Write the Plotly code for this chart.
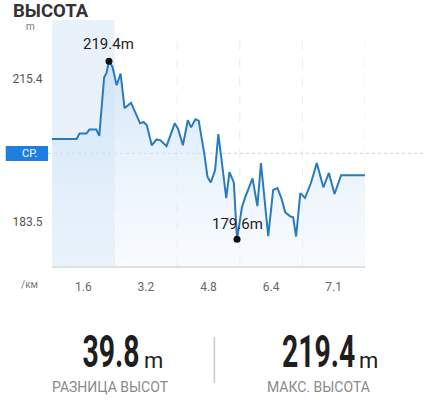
import plotly.graph_objects as go

# ---- data ----
seg_pos = [0, 0.393, 0.440, 0.550, 0.597, 0.708, 0.755, 0.833, 0.870, 0.910, 0.967,
           1.033, 1.096, 1.159, 1.263, 1.407, 1.462, 1.514, 1.593, 1.671, 1.734,
           1.829, 1.961, 2.013, 2.091, 2.170, 2.222, 2.291, 2.343, 2.432, 2.484,
           2.536, 2.605, 2.657, 2.709, 2.783, 2.835, 2.904, 2.956, 3.035, 3.087,
           3.203, 3.281, 3.338, 3.454, 3.533, 3.601, 3.664, 3.726, 3.805, 3.852,
           3.899, 3.967, 4.041, 4.135, 4.230, 4.335, 4.423, 4.513, 4.618, 5.0]
elevation = [202.0, 202.0, 203.2, 203.2, 204.1, 204.1, 202.7, 215.8, 216.7, 219.4, 218.1,
             214.0, 216.6, 208.9, 210.1, 205.5, 205.8, 205.1, 200.6, 201.9, 201.7,
             200.4, 205.5, 204.3, 200.6, 206.2, 204.6, 206.4, 206.1, 198.8, 193.5,
             192.3, 195.0, 203.1, 197.3, 188.8, 194.6, 192.3, 179.6, 186.8, 189.0,
             193.2, 187.0, 196.6, 180.3, 190.6, 191.0, 188.8, 185.6, 184.7, 184.5,
             180.2, 189.9, 188.8, 192.1, 196.6, 191.2, 194.4, 189.7, 193.9, 193.9]
km_labels = ["1.6", "3.2", "4.8", "6.4", "7.1"]
y_tick_vals = [215.4, 183.5]
avg_elev = 198.8
max_elev = 219.4
min_elev = 179.6
elev_diff = "39.8"
max_text = "219.4"

Y_MIN, Y_MAX = 173.6, 228.6
PL, PR, PT, PB = 47, 365, 20, 266
W, H = 424, 400


def px(x):
    return (x - PL) / (PR - PL)


def py(y):
    return (PB - y) / (PB - PT)


imax = elevation.index(max_elev)
imin = elevation.index(min_elev)

fig = go.Figure()

# baseline for fill
fig.add_trace(go.Scatter(x=[seg_pos[0], seg_pos[-1]], y=[Y_MIN, Y_MIN], mode="lines",
                         line=dict(width=0), hoverinfo="skip", showlegend=False))
fig.add_trace(go.Scatter(
    x=seg_pos, y=elevation, mode="lines",
    line=dict(color="#2a7bbd", width=2),
    fill="tonexty",
    fillgradient=dict(type="vertical", start=Y_MIN, stop=max_elev,
                      colorscale=[[0, "rgba(235,244,252,0.35)"], [1, "rgba(196,222,246,0.75)"]]),
    showlegend=False))
fig.add_trace(go.Scatter(
    x=[seg_pos[imax], seg_pos[imin]], y=[max_elev, min_elev], mode="markers",
    marker=dict(color="#111", size=7),
    showlegend=False, cliponaxis=False))

shapes = []
# highlighted first bin
shapes.append(dict(type="rect", xref="x", yref="paper", x0=0, x1=1, y0=0, y1=1,
                   fillcolor="rgba(226,238,250,0.75)", line=dict(width=0), layer="below"))
# vertical dashed grid
for i in range(1, 6):
    shapes.append(dict(type="line", xref="x", yref="paper", x0=i, x1=i, y0=0, y1=py(33),
                       line=dict(color="#ececec", width=1, dash="dash"), layer="below"))
# average line
shapes.append(dict(type="line", xref="paper", yref="y", x0=px(43), x1=px(424), y0=avg_elev, y1=avg_elev,
                   line=dict(color="#d2d2d2", width=1, dash="dot"), layer="below"))
# avg label box
shapes.append(dict(type="rect", xref="paper", yref="paper", x0=px(0), x1=px(43), y0=py(161), y1=py(146),
                   fillcolor="#1e7fe0", line=dict(width=0)))
# separator
shapes.append(dict(type="line", xref="paper", yref="paper", x0=px(212), x1=px(212), y0=py(337), y1=py(383),
                   line=dict(color="#c8c8c8", width=1.5)))

ann = []
# point labels
for xi, v, shift in [(seg_pos[imax], max_elev, 17), (seg_pos[imin], min_elev, 15)]:
    ann.append(dict(text=f"{v}m", x=xi, y=v, xref="x", yref="y", showarrow=False,
                    xanchor="center", yanchor="middle", yshift=shift,
                    font=dict(family="Roboto", size=15, color="#222")))
ann.append(dict(text="<b>ВЫСОТА</b>", xref="paper", yref="paper", x=px(5), y=py(11),
                xanchor="left", yanchor="middle", showarrow=False,
                font=dict(family="Roboto", size=18.5, color="#333")))
ann.append(dict(text="m", xref="paper", yref="paper", x=px(25), y=py(27), xanchor="center",
                yanchor="middle", showarrow=False, font=dict(family="Roboto", size=10, color="#777")))
ann.append(dict(text="/км", xref="paper", yref="paper", x=px(24), y=py(284), xanchor="center",
                yanchor="middle", showarrow=False, font=dict(family="Roboto", size=10, color="#777")))
ann.append(dict(text="СР.", xref="paper", yref="paper", x=px(24), y=py(153.5), xanchor="center",
                yanchor="middle", showarrow=False, font=dict(family="Roboto", size=11, color="white")))

big_font = "Roboto"
for num, right_x, sub, sub_x in [(elev_diff, 138, "РАЗНИЦА ВЫСОТ", 106),
                                 (max_text, 357, "МАКС. ВЫСОТА", 318)]:
    ann.append(dict(text=f"<b>{num}</b>", xref="paper", yref="paper", x=px(right_x), y=py(351),
                    xanchor="right", yanchor="middle", showarrow=False,
                    font=dict(family=big_font, size=45, color="#1e1e1e")))
    ann.append(dict(text="m", xref="paper", yref="paper", x=px(right_x), y=py(360),
                    xanchor="left", yanchor="middle", showarrow=False,
                    font=dict(family="Roboto", size=22, color="#1e1e1e")))
    ann.append(dict(text=sub, xref="paper", yref="paper", x=px(sub_x), y=py(387),
                    xanchor="center", yanchor="middle", showarrow=False,
                    font=dict(family="Roboto", size=14, color="#8a8a8a")))

fig.update_layout(
    width=W, height=H,
    margin=dict(l=PL, r=W - PR, t=PT, b=H - PB, pad=0),
    paper_bgcolor="white", plot_bgcolor="white",
    shapes=shapes, annotations=ann,
    xaxis=dict(range=[0, 5], tickvals=[0.5, 1.5, 2.5, 3.5, 4.5], ticktext=km_labels,
               showgrid=False, zeroline=False, showline=True, linecolor="#e0e0e0", linewidth=2,
               ticks="outside", ticklen=9, tickcolor="rgba(0,0,0,0)",
               tickfont=dict(family="Roboto", size=12, color="#666")),
    yaxis=dict(range=[Y_MIN, Y_MAX], tickvals=y_tick_vals, ticktext=[str(v) for v in y_tick_vals],
               showgrid=False, zeroline=False, showline=False,
               ticks="outside", ticklen=6, tickcolor="rgba(0,0,0,0)",
               tickfont=dict(family="Roboto", size=12, color="#555")),
)

post = """
document.body.style.margin='0';document.body.style.overflow='hidden';
var gd=document.getElementById('{plot_id}');
function condense(){
  var big=['%s','%s'];
  document.querySelectorAll('text.annotation-text').forEach(function(t){
    if(big.indexOf(t.textContent)>=0){
      var b=t.getBBox(); var rx=b.x+b.width;
      t.setAttribute('transform','translate('+rx+',0) scale(0.63,1) translate('+(-rx)+',0)');
    }
  });
}
setTimeout(condense,0);
if(gd && gd.on){gd.on('plotly_afterplot',condense);}
""" % (elev_diff, max_text)

fig.write_html("out.html", config={"displayModeBar": False}, post_script=post)
